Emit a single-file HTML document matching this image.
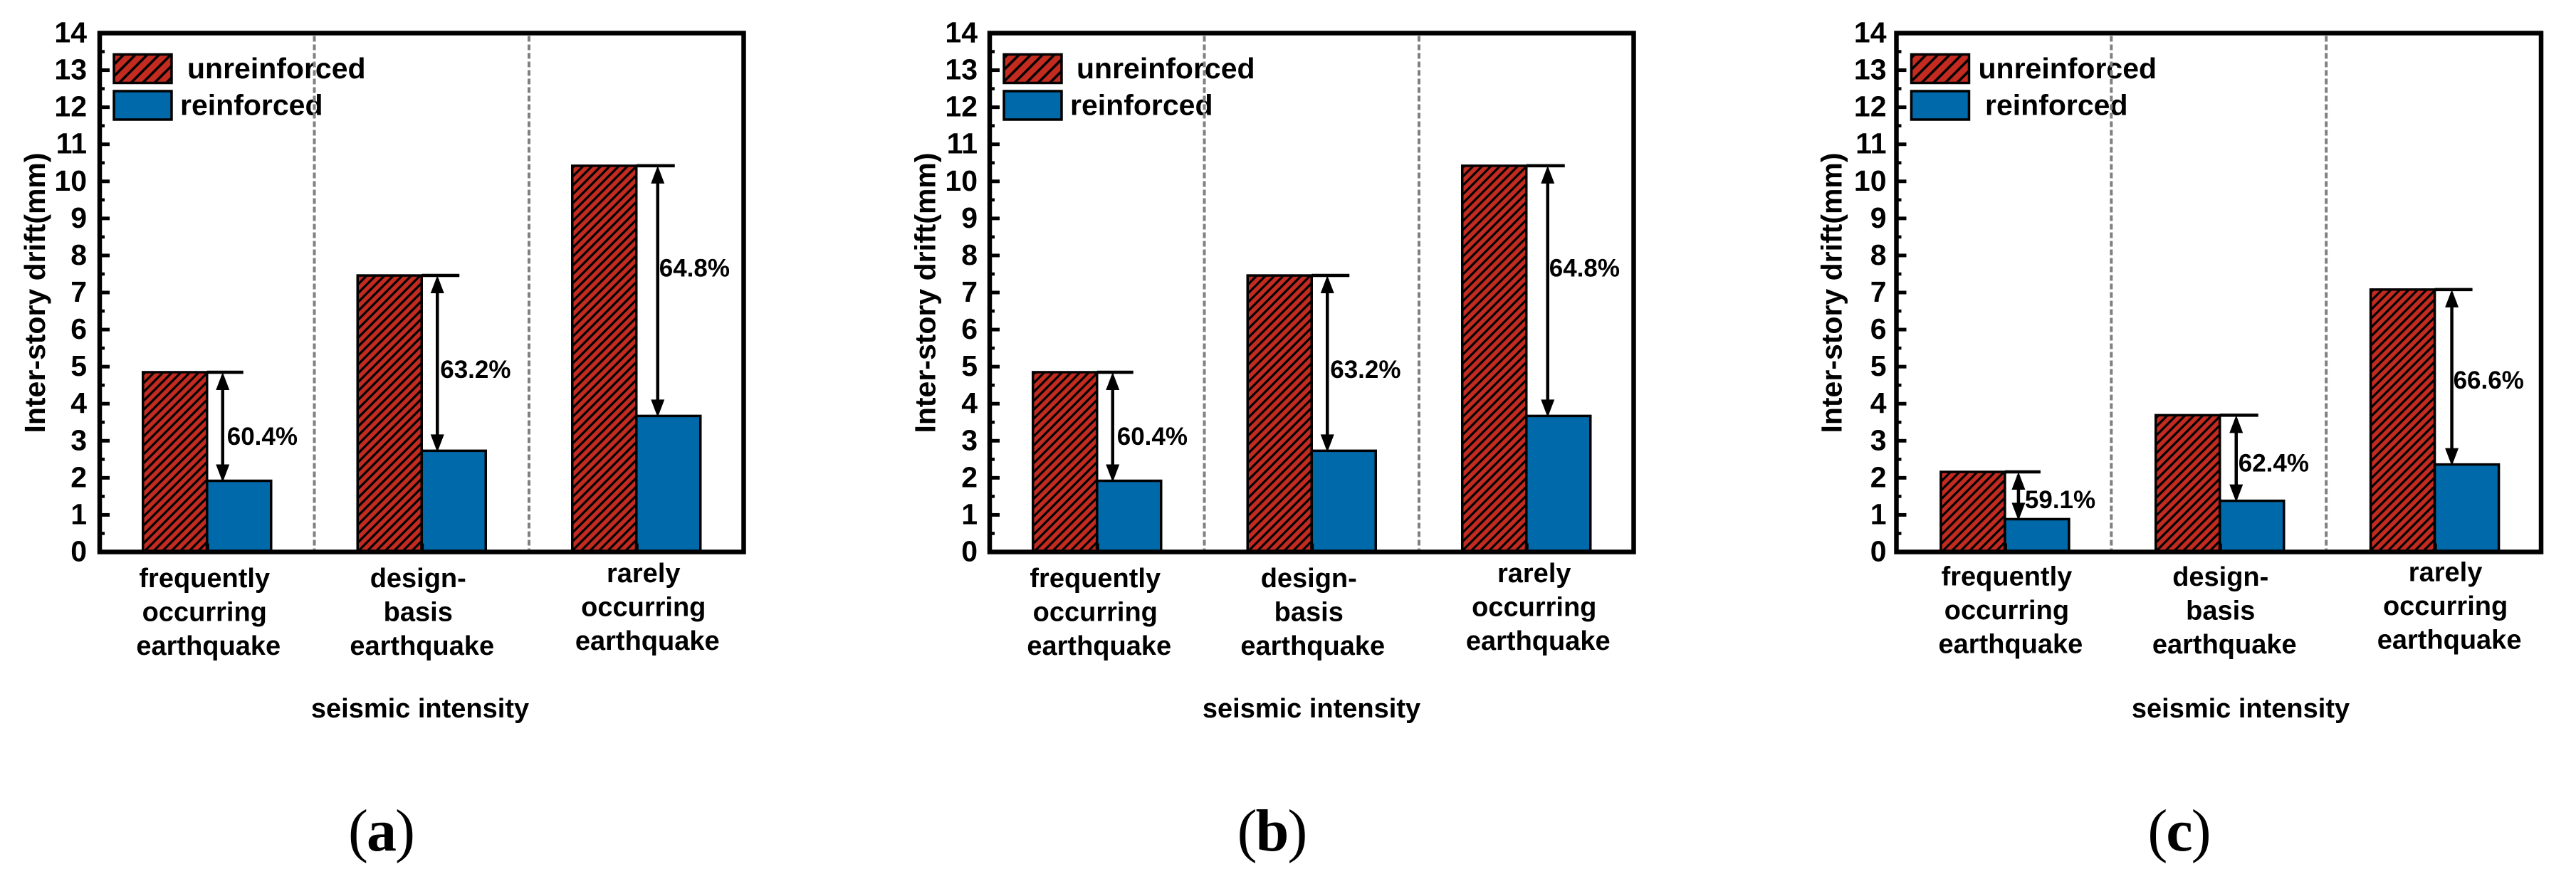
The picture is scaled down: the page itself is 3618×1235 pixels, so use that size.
<!DOCTYPE html>
<html lang="en">
<head>
<meta charset="utf-8">
<title>Inter-story drift comparison</title>
<style>
  html, body { margin: 0; padding: 0; background: #ffffff; }
  svg { display: block; }
  text { font-family: "Liberation Sans", Arial, sans-serif; font-weight: bold; fill: #000000; }
  .caption { font-family: "Liberation Serif", "Times New Roman", serif; font-size: 84px; font-weight: normal; letter-spacing: -2px; }
  .caption tspan { font-weight: bold; }
</style>
</head>
<body>
<svg id="figure" xmlns="http://www.w3.org/2000/svg" width="3618" height="1235" viewBox="0 0 3618 1235">
  <defs>
    <pattern id="hatch-bar" patternUnits="userSpaceOnUse" width="8.84" height="8.84" patternTransform="rotate(-45)">
      <rect width="8.84" height="8.84" fill="#c42b20"></rect>
      <rect width="8.84" height="3.2" fill="#000000"></rect>
    </pattern>
    <pattern id="hatch-legend" patternUnits="userSpaceOnUse" width="11.7" height="11.7" patternTransform="rotate(-45)">
      <rect width="11.7" height="11.7" fill="#c42b20"></rect>
      <rect width="11.7" height="3.5" fill="#000000"></rect>
    </pattern>
  </defs>
  <rect width="3618" height="1235" fill="#ffffff"></rect>

  <g id="panel-a">
    <g class="bars"></g>
    <g class="annotations"></g>
    <rect x="140" y="46.5" width="904.5" height="729" fill="none" stroke="#000" stroke-width="6.5"></rect>
    <g class="ticks"></g>
    <g class="cats"></g>
    <text transform="translate(63,411.5) rotate(-90)" text-anchor="middle" font-size="41">Inter-story drift(mm)</text>
    <text x="590" y="1008" text-anchor="middle" font-size="38">seismic intensity</text>
    <rect x="160" y="76.5" width="81" height="40" fill="url(#hatch-legend)" stroke="#000" stroke-width="3.5"></rect>
    <rect x="160" y="128" width="81" height="40" fill="#0069aa" stroke="#000" stroke-width="3.5"></rect>
    <text x="263" y="110" font-size="41">unreinforced</text>
    <text x="253" y="161.5" font-size="41">reinforced</text>
    <g class="seps"></g>
    <text class="caption" x="535" y="1195" text-anchor="middle">(<tspan>a</tspan>)</text>
  </g>

  <g id="panel-b">
    <g class="bars"></g>
    <g class="annotations"></g>
    <rect x="1390" y="46.5" width="904.5" height="729" fill="none" stroke="#000" stroke-width="6.5"></rect>
    <g class="ticks"></g>
    <g class="cats"></g>
    <text transform="translate(1313.5,411.5) rotate(-90)" text-anchor="middle" font-size="41">Inter-story drift(mm)</text>
    <text x="1842" y="1008" text-anchor="middle" font-size="38">seismic intensity</text>
    <rect x="1410" y="76.5" width="81" height="40" fill="url(#hatch-legend)" stroke="#000" stroke-width="3.5"></rect>
    <rect x="1410" y="128" width="81" height="40" fill="#0069aa" stroke="#000" stroke-width="3.5"></rect>
    <text x="1512" y="110" font-size="41">unreinforced</text>
    <text x="1503" y="161.5" font-size="41">reinforced</text>
    <g class="seps"></g>
    <text class="caption" x="1786" y="1195" text-anchor="middle">(<tspan>b</tspan>)</text>
  </g>

  <g id="panel-c">
    <g class="bars"></g>
    <g class="annotations"></g>
    <rect x="2663.5" y="46.5" width="905.5" height="729" fill="none" stroke="#000" stroke-width="6.5"></rect>
    <g class="ticks"></g>
    <g class="cats"></g>
    <text transform="translate(2586.4,411.5) rotate(-90)" text-anchor="middle" font-size="41">Inter-story drift(mm)</text>
    <text x="3147" y="1008" text-anchor="middle" font-size="38">seismic intensity</text>
    <rect x="2684.5" y="76.5" width="81" height="40" fill="url(#hatch-legend)" stroke="#000" stroke-width="3.5"></rect>
    <rect x="2684.5" y="128" width="81" height="40" fill="#0069aa" stroke="#000" stroke-width="3.5"></rect>
    <text x="2778.5" y="110" font-size="41">unreinforced</text>
    <text x="2788" y="161.5" font-size="41">reinforced</text>
    <g class="seps"></g>
    <text class="caption" x="3060" y="1195" text-anchor="middle">(<tspan>c</tspan>)</text>
  </g>
</svg>

<script>
// ---- chart data ----
const categories = [
  ["frequently", "occurring", "earthquake"],
  ["design-", "basis", "earthquake"],
  ["rarely", "occurring", "earthquake"]
];
const yTickLabels = ["0","1","2","3","4","5","6","7","8","9","10","11","12","13","14"];
const unreinforcedA = [4.85, 7.46, 10.42];
const reinforcedA   = [1.92, 2.73, 3.67];
const reductionA    = ["60.4%", "63.2%", "64.8%"];
const unreinforcedB = [4.85, 7.46, 10.42];
const reinforcedB   = [1.92, 2.73, 3.67];
const reductionB    = ["60.4%", "63.2%", "64.8%"];
const unreinforcedC = [2.16, 3.69, 7.08];
const reinforcedC   = [0.885, 1.38, 2.36];
const reductionC    = ["59.1%", "62.4%", "66.6%"];

// ---- layout (pixels, not data) ----
const NS = "http://www.w3.org/2000/svg";
const yBottom = 775.5, yTop = 46.5, yMax = 14;
const barWidth = 90;
const panels = [
  { id: "panel-a", x0: 140, width: 904.5, barShift: 0, tickGap: 18,
    red: unreinforcedA, blue: reinforcedA, pct: reductionA,
    arrowDx: [22, 22, 30], capDx: [51, 53, 54], pctDx: [28, 26, 32], pctDy: [26, 21, -20],
    catDx: [-3.5, -5, 10], catBase: [825, 825, 818] },
  { id: "panel-b", x0: 1390, width: 904.5, barShift: 0, tickGap: 17,
    red: unreinforcedB, blue: reinforcedB, pct: reductionB,
    arrowDx: [22, 22, 30], capDx: [51, 53, 54], pctDx: [28, 26, 32], pctDy: [26, 21, -20],
    catDx: [-2.5, -4, 11], catBase: [825, 825, 818] },
  { id: "panel-c", x0: 2663.5, width: 905.5, barShift: 1.5, tickGap: 14,
    red: unreinforcedC, blue: reinforcedC, pct: reductionC,
    arrowDx: [19, 23, 24], capDx: [50, 54, 53], pctDx: [28, 26, 26], pctDy: [18, 19, 16.5],
    catDx: [2.5, 1, 15], catBase: [822.5, 823, 816.5] }
];

function yScale(v) { return yBottom - (v / yMax) * (yBottom - yTop); }
function xScale(p, i) { return p.x0 + p.width * (i + 0.5) / 3 + p.barShift; }
function mk(tag, attrs, parent) {
  const el = document.createElementNS(NS, tag);
  for (const k in attrs) el.setAttribute(k, attrs[k]);
  parent.appendChild(el);
  return el;
}

panels.forEach(function (p) {
  const root = document.getElementById(p.id);
  const bars = root.querySelector(".bars");
  const ann = root.querySelector(".annotations");
  const ticks = root.querySelector(".ticks");
  const cats = root.querySelector(".cats");
  const seps = root.querySelector(".seps");

  // y axis ticks and labels
  yTickLabels.forEach(function (label) {
    const v = Number(label);
    const y = yScale(v);
    if (v > 0 && v < yMax) {
      const major = mk("line", { x1: p.x0, x2: p.x0 + 14, y1: y, y2: y, stroke: "#000", "stroke-width": 5 }, ticks);
      
      
    }
    if (v < yMax) {
      const ym = yScale(v + 0.5);
      const minor = mk("line", { x1: p.x0, x2: p.x0 + 7, y1: ym, y2: ym, stroke: "#000", "stroke-width": 4.5 }, ticks);
      
      
    }
    const t = mk("text", { x: p.x0 - p.tickGap, y: y + 13, "text-anchor": "end", "font-size": 41 }, ticks);
    
    
    t.textContent = label;
  });

  // bars, arrows, value labels, category labels
  categories.forEach(function (lines, i) {
    const mid = xScale(p, i);
    const yRed = yScale(p.red[i]);
    const yBlue = yScale(p.blue[i]);

    const r = mk("rect", { x: mid - barWidth, y: yRed, width: barWidth, height: yBottom - yRed, fill: "url(#hatch-bar)", stroke: "#000", "stroke-width": 3.5 }, bars);
    
    

    const b = mk("rect", { x: mid, y: yBlue, width: barWidth, height: yBottom - yBlue, fill: "#0069aa", stroke: "#000", "stroke-width": 3.5 }, bars);
    
    

    const xt = mk("line", { x1: mid + 0.5, x2: mid + 0.5, y1: yBottom - 12, y2: yBottom, stroke: "#000", "stroke-width": 5 }, bars);
    
    

    const ax = mid + p.arrowDx[i];
    const cap = mk("line", { x1: mid, x2: mid + p.capDx[i], y1: yRed, y2: yRed, stroke: "#000", "stroke-width": 4.5 }, ann);
    
    

    const shaft = mk("line", { x1: ax, x2: ax, y1: yRed + 5, y2: yBlue - 5, stroke: "#000", "stroke-width": 4.5 }, ann);
    
    

    const up = mk("polygon", { points: ax + "," + yRed + " " + (ax - 9.5) + "," + (yRed + 25) + " " + (ax + 9.5) + "," + (yRed + 25), fill: "#000" }, ann);
    
    

    const down = mk("polygon", { points: ax + "," + (yBlue + 2) + " " + (ax - 9.5) + "," + (yBlue - 23) + " " + (ax + 9.5) + "," + (yBlue - 23), fill: "#000" }, ann);
    
    

    const pct = mk("text", { x: mid + p.pctDx[i], y: (yRed + yBlue) / 2 + p.pctDy[i], "font-size": 35 }, ann);
    
    
    pct.textContent = p.pct[i];

    lines.forEach(function (line, j) {
      const t = mk("text", {
        x: mid + p.catDx[i] + (j === 2 ? 5.5 : 0),
        y: p.catBase[i] + j * 47.5,
        "text-anchor": "middle",
        "font-size": 38
      }, cats);
      
      
      t.textContent = line;
    });
  });

  // dashed separators between categories
  [1, 2].forEach(function (k) {
    const x = p.x0 + p.width * k / 3;
    const s = mk("line", { x1: x, x2: x, y1: yTop + 4, y2: yBottom - 3, stroke: "#808080", "stroke-width": 4, "stroke-dasharray": "8 4" }, seps);
    
    
  });
});
</script>
</body>
</html>
